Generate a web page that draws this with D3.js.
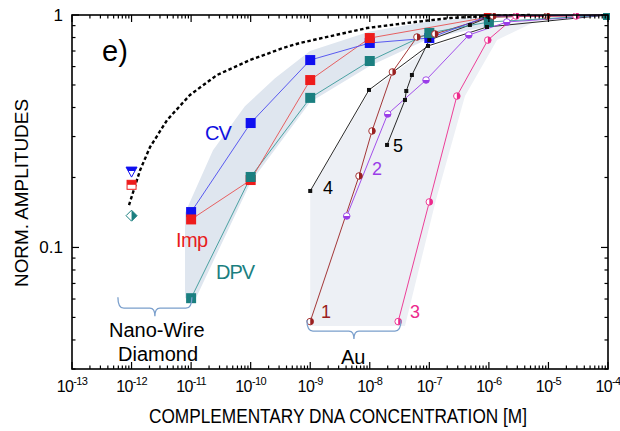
<!DOCTYPE html>
<html><head><meta charset="utf-8">
<script src="https://cdn.jsdelivr.net/npm/d3@7"></script>
<style>
html,body{margin:0;padding:0;background:#fff;}
svg{display:block;font-family:"Liberation Sans",Arial,Helvetica,sans-serif;}
</style></head>
<body><svg id="c" width="620" height="431"></svg>
<script>
// ---------- DATA ----------
const xTickExps = [-13,-12,-11,-10,-9,-8,-7,-6,-5,-4];
const yTickLabels = [{v:0.1,t:"0.1"},{v:1,t:"1"}];
const yMinorTicks = [0.03,0.04,0.05,0.06,0.07,0.08,0.09,0.2,0.3,0.4,0.5,0.6,0.7,0.8,0.9];

// Nano-wire diamond electrodes
const nwX   = [1e-11, 1e-10, 1e-9, 1e-8, 1e-7, 1e-6, 1e-4];
const cvY   = [0.142, 0.343, 0.640, 0.758, 0.796, 0.99, 1.0];
const impX  = [1e-11, 1e-10, 1e-9, 1e-8, 1e-6, 1e-4];
const impY  = [0.132, 0.195, 0.525, 0.796, 0.98, 1.0];
const dpvY  = [0.0605, 0.201, 0.440, 0.634, 0.837, 0.933, 1.0];

// single points at 1e-12 (half-filled markers)
const lowX = 1e-12;
const lowCV = 0.212, lowImp = 0.186, lowDPV = 0.137;

// dashed fit curve
const fitX = [9.06e-13,1.39e-12,2.04e-12,3.94e-12,9.57e-12,2.72e-11,9.75e-11,3.49e-10,6.73e-10,8.97e-9,5.74e-8,2.24e-7,9.5e-7,4.9e-6];
const fitY = [0.152,0.215,0.270,0.353,0.453,0.552,0.640,0.721,0.758,0.879,0.933,0.971,0.99,1.0];

// Au electrodes
const au1X = [1e-9, 6.6e-9, 1.09e-8, 2.4e-8, 6.2e-8, 1.24e-7, 1.17e-6, 9.4e-6];
const au1Y = [0.048, 0.203, 0.317, 0.569, 0.804, 0.829, 0.99, 0.99];
const au2X = [4.1e-9, 2.0e-8, 8.8e-8, 4.6e-7, 2.0e-6, 1e-4];
const au2Y = [0.1365, 0.375, 0.525, 0.820, 0.933, 1.0];
const au3X = [3.0e-8, 1.0e-7, 2.9e-7, 9.6e-7, 2.85e-6, 2.9e-5, 1e-4];
const au3Y = [0.048, 0.157, 0.448, 0.780, 0.99, 0.99, 1.0];
const au4X = [1e-9, 9.7e-9, 9.5e-8, 9.3e-7, 1e-4];
const au4Y = [0.175, 0.476, 0.736, 0.888, 1.0];
const au5X = [1.95e-8, 3.9e-8, 4.1e-8, 5.1e-8, 1.0e-7, 4.8e-7, 1.0e-6, 1e-4];
const au5Y = [0.276, 0.431, 0.471, 0.552, 0.780, 0.906, 0.98, 1.0];

// shaded regions
const nwBandX = [7.9e-12,7.9e-12,2.33e-11,8.0e-11,2.56e-10,9.9e-10,1.0e-8,1.03e-7,1.04e-6, 1.04e-6,1.03e-7,1.0e-8,1.0e-9,1.0e-10,1.12e-11];
const nwBandY = [0.0606,0.1406,0.262,0.405,0.535,0.70,0.85,0.94,0.99, 0.897,0.796,0.603,0.422,0.191,0.0582];
const auBandX = [1e-9,1e-9,9.7e-9,9.5e-8,9.3e-7,8.7e-6, 1.37e-6,3.97e-7,1.29e-7,3.9e-8];
const auBandY = [0.0459,0.173,0.466,0.721,0.879,0.98, 0.78,0.448,0.16,0.0459];

// ---------- CHART ----------
const svg = d3.select("#c");
const L=72, R=608, T=15, B=369;
const x = d3.scaleLog().domain([1e-13,1e-4]).range([L,R]);
const y = d3.scaleLog().domain([0.03,1]).range([B,T]);
const zip = (xs,ys)=>xs.map((v,i)=>[v,ys[i]]);
const line = d3.line().x(d=>x(d[0])).y(d=>y(d[1]));

svg.append("clipPath").attr("id","pc").append("rect").attr("x",L).attr("y",T-2).attr("width",R-L+2).attr("height",B-T+2);
const g = svg.append("g").attr("clip-path","url(#pc)");

// bands
g.append("path").attr("d", line(zip(nwBandX,nwBandY))+"Z").attr("fill","#dfe6ef");
g.append("path").attr("d", line(zip(auBandX,auBandY))+"Z").attr("fill","#edf0f5");

// dashed fit
g.append("path").attr("d", line(zip(fitX,fitY))).attr("fill","none")
 .attr("stroke","#000").attr("stroke-width",2.4).attr("stroke-dasharray","3.5,2.5");

// Au lines
const auSeries = [
 {x:au4X,y:au4Y,c:"#111",m:"sq"},
 {x:au5X,y:au5Y,c:"#111",m:"sq"},
 {x:au1X,y:au1Y,c:"#9a2020",m:"right"},
 {x:au2X,y:au2Y,c:"#9a3de8",m:"bottom"},
 {x:au3X,y:au3Y,c:"#ec2a8c",m:"right"}
];
auSeries.forEach(s=>{
  g.append("path").attr("d",line(zip(s.x,s.y))).attr("fill","none").attr("stroke",s.c).attr("stroke-width",0.9);
});
// NW lines
const nwSeries = [
 {x:nwX,y:dpvY,c:"#1b7f80",lc:"#3a9a9a"},
 {x:impX,y:impY,c:"#ee1c1c",lc:"#e65050"},
 {x:nwX,y:cvY,c:"#1010f0",lc:"#4a4aef"}
];
nwSeries.forEach(s=>{
  g.append("path").attr("d",line(zip(s.x,s.y))).attr("fill","none").attr("stroke",s.lc).attr("stroke-width",0.9);
});
// NW squares
[nwSeries[2],nwSeries[1],nwSeries[0]].forEach(s=>{
  g.selectAll(null).data(zip(s.x,s.y)).enter().append("rect")
   .attr("x",d=>x(d[0])-5).attr("y",d=>y(d[1])-5).attr("width",10).attr("height",10).attr("fill",s.c);
});
// Au markers
auSeries.forEach(s=>{
  const pts = zip(s.x,s.y).filter(d=>d[0]<1e-4);
  if(s.m==="sq"){
    g.selectAll(null).data(pts).enter().append("rect")
     .attr("x",d=>x(d[0])-2).attr("y",d=>y(d[1])-2).attr("width",4).attr("height",4).attr("fill",s.c);
  } else {
    const r=3.3;
    const half = s.m==="right" ? `M0,${-r}A${r},${r} 0 0 1 0,${r}Z` : `M${-r},0A${r},${r} 0 0 0 ${r},0Z`;
    const mg = g.selectAll(null).data(pts).enter().append("g")
      .attr("transform",d=>`translate(${x(d[0])},${y(d[1])})`);
    mg.append("circle").attr("r",r).attr("fill","#fff").attr("stroke",s.c).attr("stroke-width",0.9);
    mg.append("path").attr("d",half).attr("fill",s.c);
  }
});
// teal square at 1e-4 on top
g.append("rect").attr("x",x(1e-4)-5).attr("y",y(1)-5).attr("width",10).attr("height",10).attr("fill","#1b7f80");

// half-filled markers at 1e-12
const lx = x(lowX);
{ const cy=y(lowCV);
  const t=svg.append("g").attr("transform",`translate(${lx},${cy})`);
  t.append("path").attr("d","M-5.5,-4.5L5.5,-4.5L0,5.5Z").attr("fill","#fff").attr("stroke","#1010f0").attr("stroke-width",1);
  t.append("path").attr("d","M-5.5,-4.5L5.5,-4.5L3.3,-0.5L-3.3,-0.5Z").attr("fill","#1010f0");
}
{ const cy=y(lowImp);
  const t=svg.append("g").attr("transform",`translate(${lx},${cy})`);
  t.append("rect").attr("x",-4.5).attr("y",-4.5).attr("width",9).attr("height",9).attr("fill","#fff").attr("stroke","#ee1c1c").attr("stroke-width",1);
  t.append("rect").attr("x",-4.5).attr("y",-4.5).attr("width",9).attr("height",4.5).attr("fill","#ee1c1c");
}
{ const cy=y(lowDPV);
  const t=svg.append("g").attr("transform",`translate(${lx},${cy})`);
  t.append("path").attr("d","M0,-5.5L5.5,0L0,5.5L-5.5,0Z").attr("fill","#fff").attr("stroke","#1b7f80").attr("stroke-width",1);
  t.append("path").attr("d","M0,-5.5L5.5,0L0,5.5Z").attr("fill","#1b7f80");
}

// braces
function brace(x1,x2,yy,col){
  const a=x(x1), b=x(x2), m=(a+b)/2, yv=y(yy);
  const p=`M${a},${yv-11} Q${a},${yv} ${a+6},${yv} L${m-5},${yv} Q${m},${yv} ${m},${yv+8} Q${m},${yv} ${m+5},${yv} L${b-6},${yv} Q${b},${yv} ${b},${yv-11}`;
  svg.append("path").attr("d",p).attr("fill","none").attr("stroke",col).attr("stroke-width",1.3);
}
brace(5.9e-13,1.03e-11,0.0548,"#7a9fcc");
brace(8.8e-10,3.34e-8,0.0437,"#7a9fcc");

// frame & ticks
svg.append("rect").attr("x",L).attr("y",T).attr("width",R-L).attr("height",B-T).attr("fill","none").attr("stroke","#000").attr("stroke-width",1.6);
const tk = svg.append("g").attr("stroke","#000").attr("stroke-width",1.2);
xTickExps.forEach(e=>{
  const v=Math.pow(10,e), px=x(v);
  tk.append("line").attr("x1",px).attr("x2",px).attr("y1",B).attr("y2",B-7);
  tk.append("line").attr("x1",px).attr("x2",px).attr("y1",T).attr("y2",T+7);
  if(e<-4) for(let k=2;k<10;k++){
    const q=x(k*v);
    tk.append("line").attr("x1",q).attr("x2",q).attr("y1",B).attr("y2",B-3.5);
    tk.append("line").attr("x1",q).attr("x2",q).attr("y1",T).attr("y2",T+3.5);
  }
  const t=svg.append("text").attr("x",px).attr("y",392).attr("text-anchor","middle").attr("font-size",16).attr("letter-spacing",-0.6);
  t.append("tspan").text("10");
  t.append("tspan").attr("dy",-7).attr("font-size",11).text(String(e));
});
yTickLabels.forEach(d=>{
  const py=y(d.v);
  tk.append("line").attr("x1",L).attr("x2",L+7).attr("y1",py).attr("y2",py);
  tk.append("line").attr("x1",R).attr("x2",R-7).attr("y1",py).attr("y2",py);
  svg.append("text").attr("x",63).attr("y",py+6).attr("text-anchor","end").attr("font-size",17).text(d.t);
});
yMinorTicks.forEach(v=>{
  const py=y(v);
  tk.append("line").attr("x1",L).attr("x2",L+3.5).attr("y1",py).attr("y2",py);
  tk.append("line").attr("x1",R).attr("x2",R-3.5).attr("y1",py).attr("y2",py);
});

// axis titles
svg.append("text").attr("x",338).attr("y",423).attr("text-anchor","middle").attr("font-size",20)
  .attr("textLength",378).attr("lengthAdjust","spacingAndGlyphs").text("COMPLEMENTARY DNA CONCENTRATION [M]");
svg.append("text").attr("transform","translate(28,193) rotate(-90)").attr("text-anchor","middle").attr("font-size",19)
  .attr("textLength",188).attr("lengthAdjust","spacingAndGlyphs").text("NORM. AMPLITUDES");

// annotations
const ann=[
 {t:"e)",x:102,y:61,s:29,c:"#000"},
 {t:"CV",x:205,y:140,s:20,c:"#1010e0",ls:-1},
 {t:"Imp",x:176,y:247,s:20,c:"#e81c1c",ls:-0.6},
 {t:"DPV",x:216,y:279,s:20,c:"#1b7f80",ls:-1},
 {t:"Nano-Wire",x:109,y:337,s:20,c:"#000"},
 {t:"Diamond",x:118,y:361,s:20,c:"#000"},
 {t:"Au",x:341,y:364,s:20,c:"#000"},
 {t:"1",x:321,y:318,s:18,c:"#9a2020"},
 {t:"2",x:372,y:175,s:18,c:"#9a3de8"},
 {t:"3",x:410,y:318,s:18,c:"#ec2a8c"},
 {t:"4",x:323,y:194,s:18,c:"#000"},
 {t:"5",x:393,y:152,s:18,c:"#000"}
];
ann.forEach(a=>{
  svg.append("text").attr("x",a.x).attr("y",a.y).attr("font-size",a.s).attr("fill",a.c)
   .attr("letter-spacing",a.ls||0).text(a.t);
});
</script></body></html>
